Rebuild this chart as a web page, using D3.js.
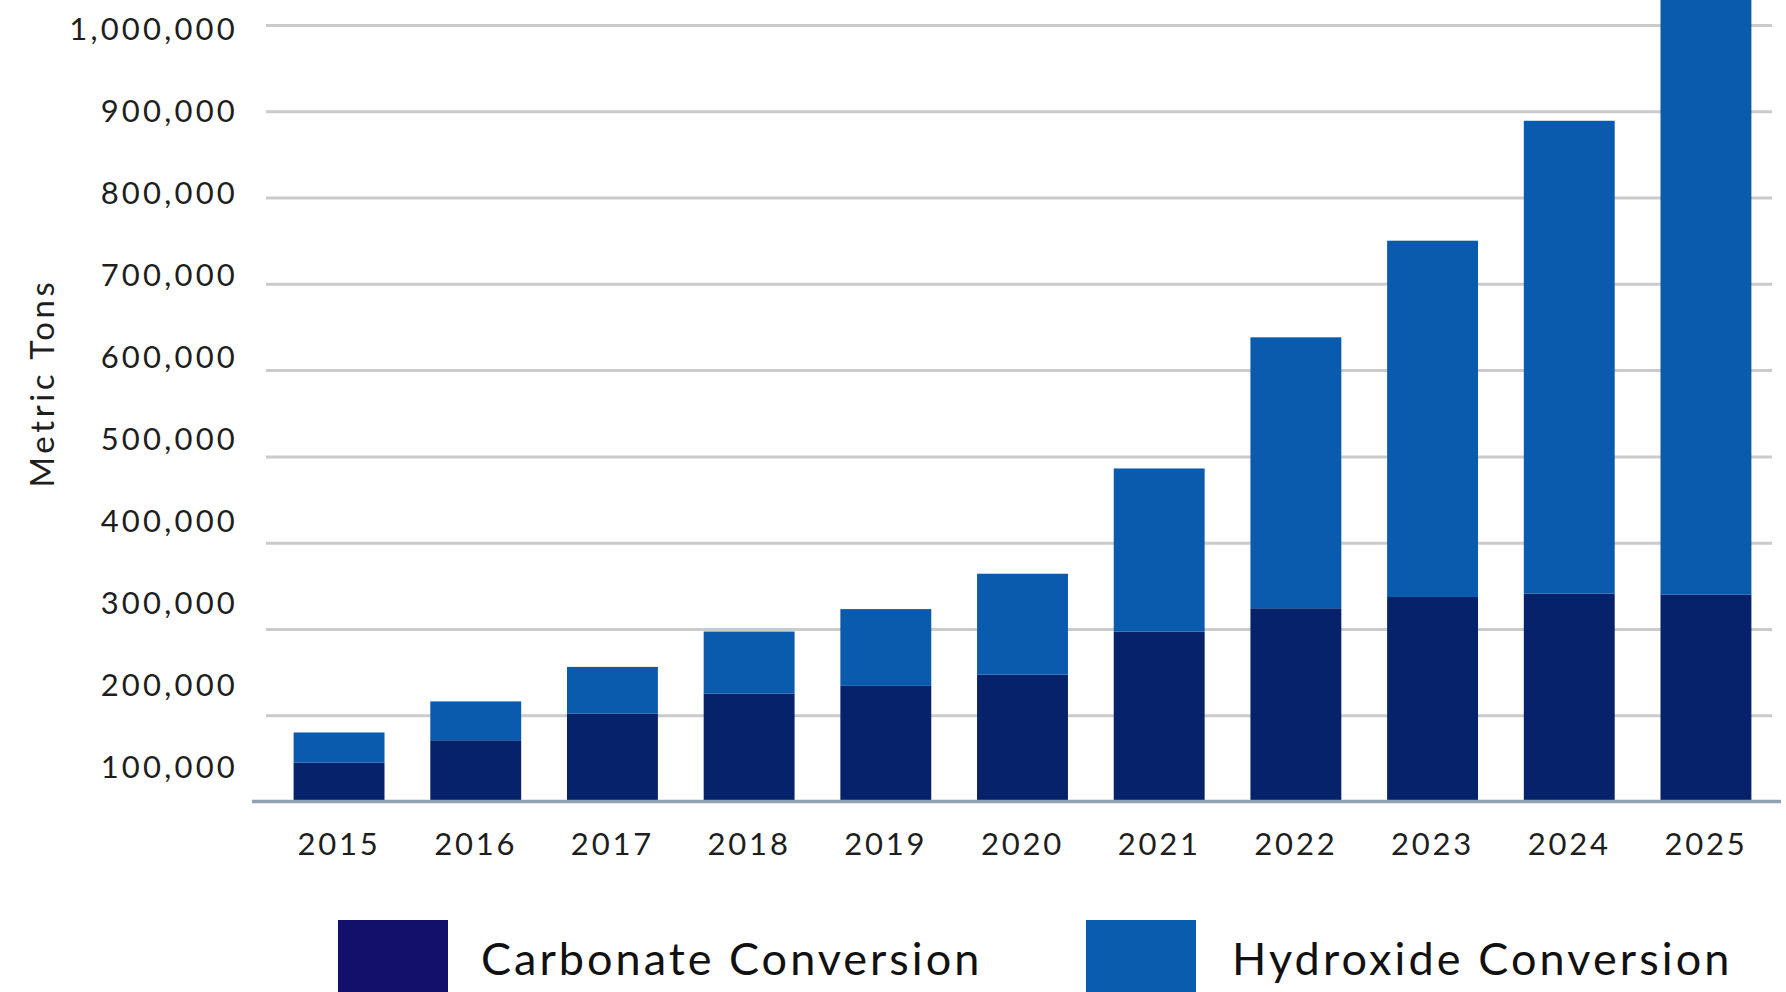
<!DOCTYPE html>
<html>
<head>
<meta charset="utf-8">
<script src="https://cdn.jsdelivr.net/npm/d3@7"></script>
<style>
  html, body { margin: 0; padding: 0; background: #fff; }
  svg { display: block; font-family: Lato, "Open Sans", sans-serif; }
</style>
</head>
<body>
<svg id="chart" width="1786" height="992"></svg>
<script>
// data
const years = ['2015', '2016', '2017', '2018', '2019', '2020', '2021', '2022', '2023', '2024', '2025'];
const carbonate = [145000, 171000, 202000, 225000, 234000, 247000, 297000, 324000, 337000, 341000, 340000];
const hydroxide = [35000, 45000, 54000, 72000, 89000, 117000, 189000, 314000, 413000, 548000, 710000];
const seriesNames = ['Carbonate Conversion', 'Hydroxide Conversion'];
const yTicks = [100000, 200000, 300000, 400000, 500000, 600000, 700000, 800000, 900000, 1000000];

const barColors = ['#05226a', '#0a5bad'];
const legendColors = ['#12106a', '#0a5cae'];

const svg = d3.select('#chart');

const rows = years.map((year, i) => ({year, carbonate: carbonate[i], hydroxide: hydroxide[i]}));
const stacked = d3.stack().keys(['carbonate', 'hydroxide'])(rows);

const x = d3.scaleBand()
  .domain(years)
  .range([269, 1776])
  .paddingInner(0.335)
  .paddingOuter(0.18);

// the axis line sits on the first label value
const y = d3.scaleLinear()
  .domain([100000, 1000000])
  .range([801.5, 25]);

// tick labels in the source drift a little from their gridlines
const yLabel = y.copy().range([768, 30]);

// gridlines
svg.append('g')
    .attr('class', 'grid')
    .attr('transform', 'translate(266,0)')
    .call(d3.axisLeft(y).tickValues(yTicks.slice(1)).tickSize(-(1772 - 266)).tickFormat(''))
    .call(g => g.select('.domain').remove())
    .call(g => g.selectAll('line').attr('stroke', '#cbcbcb').attr('stroke-width', 3));

// stacked bars
svg.append('g')
  .selectAll('g')
  .data(stacked)
  .join('g')
    .attr('fill', (d, i) => barColors[i])
  .selectAll('rect')
  .data(d => d)
  .join('rect')
    .attr('x', d => x(d.data.year))
    .attr('width', x.bandwidth())
    .attr('y', d => y(Math.max(d[1], y.domain()[0])))
    .attr('height', d => y(Math.max(d[0], y.domain()[0])) - y(d[1]));

// base line
svg.append('line')
    .attr('x1', 252)
    .attr('x2', 1781)
    .attr('y1', y(100000))
    .attr('y2', y(100000))
    .attr('stroke', '#8fa2b0')
    .attr('stroke-width', 3.5);

// y tick labels
svg.append('g')
    .attr('transform', 'translate(238,0)')
    .call(d3.axisLeft(yLabel).tickValues(yTicks).tickSize(0).tickPadding(0).tickFormat(d3.format(',')))
    .call(g => g.select('.domain').remove())
    .call(g => g.selectAll('text')
      .attr('fill', '#1e1e1e')
      .style('font-size', '31px')
      .style('letter-spacing', '3.2px')
      .style('font-family', 'Lato, sans-serif'));

// x tick labels
svg.append('g')
    .attr('transform', 'translate(0,833)')
    .call(d3.axisBottom(x).tickSize(0).tickPadding(0))
    .call(g => g.select('.domain').remove())
    .call(g => g.selectAll('text')
      .attr('fill', '#1e1e1e')
      .attr('dy', '0.71em')
      .style('font-size', '31px')
      .style('letter-spacing', '2.8px')
      .style('font-family', 'Lato, sans-serif'));

// y axis title
svg.append('text')
    .attr('transform', 'translate(54,383) rotate(-90)')
    .attr('text-anchor', 'middle')
    .attr('fill', '#1e1e1e')
    .style('font-size', '33px')
    .style('letter-spacing', '3.6px')
    .text('Metric Tons');

// legend
const legendX = [338, 1086];
const legend = svg.append('g')
  .selectAll('g')
  .data(seriesNames)
  .join('g')
    .attr('transform', (d, i) => `translate(${legendX[i]},920)`);

legend.append('rect')
    .attr('width', 110)
    .attr('height', 80)
    .attr('fill', (d, i) => legendColors[i]);

legend.append('text')
    .attr('x', (d, i) => i ? 146 : 143)
    .attr('y', 55)
    .attr('fill', '#111')
    .style('font-size', '45px')
    .style('letter-spacing', (d, i) => i ? '3.1px' : '3px')
    .text(d => d);
</script>
</body>
</html>
